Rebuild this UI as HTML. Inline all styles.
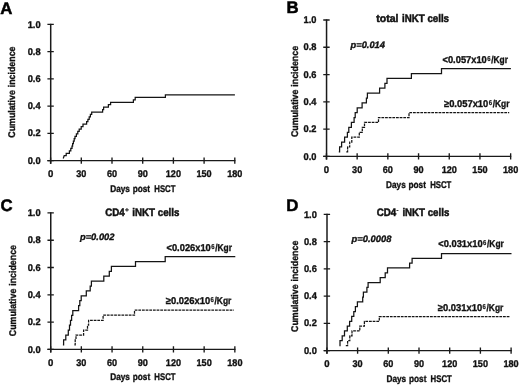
<!DOCTYPE html>
<html><head><meta charset="utf-8"><title>Figure</title>
<style>
html,body{margin:0;padding:0;background:#fff;}
body{width:520px;height:386px;overflow:hidden;}
svg{display:block;will-change:transform;filter:grayscale(1) blur(0.35px);}
text{font-family:"Liberation Sans", sans-serif;font-weight:bold;fill:#111;stroke:#111;stroke-width:0.35px;text-rendering:geometricPrecision;}
.t{font-size:9.7px;}
.ti{font-size:10.9px;stroke-width:0.5px;}
.lg{font-size:9.9px;}
.sp{font-size:7.2px;stroke-width:0.2px;}
.p{font-size:9.3px;font-style:italic;}
.L{font-size:16.8px;fill:#000;stroke:#000;stroke-width:0.5px;}
.ax{fill:none;stroke:#1a1a1a;stroke-width:1.35;}
.c{fill:none;stroke:#141414;stroke-width:1.25;stroke-linejoin:miter;}
.d{fill:none;stroke:#141414;stroke-width:1.25;stroke-dasharray:2.75 0.9;}
</style></head><body>
<svg width="520" height="386" viewBox="0 0 520 386">
<rect width="520" height="386" fill="#fff"/>
<path d="M50.7,23.8 V163.8" class="ax" style="stroke-width:1.5"/>
<path d="M47.4,160.6 H235.4" class="ax"/>
<path d="M47.4,160.6 H53.8 M47.4,133.36 H53.8 M47.4,106.12 H53.8 M47.4,78.88 H53.8 M47.4,51.64 H53.8 M47.4,24.4 H53.8 M50.6,157.4 V163.8 M81.3,157.4 V163.8 M112,157.4 V163.8 M142.7,157.4 V163.8 M173.4,157.4 V163.8 M204.1,157.4 V163.8 M234.8,157.4 V163.8" class="ax"/>
<text x="27.7" y="163.7" class="t" textLength="12.9" lengthAdjust="spacingAndGlyphs">0.0</text>
<text x="27.7" y="136.46" class="t" textLength="12.9" lengthAdjust="spacingAndGlyphs">0.2</text>
<text x="27.7" y="109.22" class="t" textLength="12.9" lengthAdjust="spacingAndGlyphs">0.4</text>
<text x="27.7" y="81.98" class="t" textLength="12.9" lengthAdjust="spacingAndGlyphs">0.6</text>
<text x="27.7" y="54.74" class="t" textLength="12.9" lengthAdjust="spacingAndGlyphs">0.8</text>
<text x="27.7" y="27.5" class="t" textLength="12.9" lengthAdjust="spacingAndGlyphs">1.0</text>
<text x="47.94" y="176.7" class="t" textLength="5.32" lengthAdjust="spacingAndGlyphs">0</text>
<text x="76.23" y="176.7" class="t" textLength="10.14" lengthAdjust="spacingAndGlyphs">30</text>
<text x="106.93" y="176.7" class="t" textLength="10.14" lengthAdjust="spacingAndGlyphs">60</text>
<text x="137.63" y="176.7" class="t" textLength="10.14" lengthAdjust="spacingAndGlyphs">90</text>
<text x="165.79" y="176.7" class="t" textLength="15.21" lengthAdjust="spacingAndGlyphs">120</text>
<text x="196.49" y="176.7" class="t" textLength="15.21" lengthAdjust="spacingAndGlyphs">150</text>
<text x="227.19" y="176.7" class="t" textLength="15.21" lengthAdjust="spacingAndGlyphs">180</text>
<text x="110.2" y="191.7" class="t" textLength="19.7" lengthAdjust="spacingAndGlyphs">Days</text>
<text x="132.7" y="191.7" class="t" textLength="17.4" lengthAdjust="spacingAndGlyphs">post</text>
<text x="154.3" y="191.7" class="t" textLength="21.2" lengthAdjust="spacingAndGlyphs">HSCT</text>
<text transform="translate(15.4,137.7) rotate(-90)" class="t" textLength="47.5" lengthAdjust="spacingAndGlyphs">Cumulative</text>
<text transform="translate(15.4,87.3) rotate(-90)" class="t" textLength="40.8" lengthAdjust="spacingAndGlyphs">incidence</text>
<text x="0.3" y="13.5" class="L">A</text>
<path d="M326.55,19.4 V159.6" class="ax" style="stroke-width:1.5"/>
<path d="M323.25,156.4 H511.25" class="ax"/>
<path d="M323.25,156.4 H329.65 M323.25,129.12 H329.65 M323.25,101.84 H329.65 M323.25,74.56 H329.65 M323.25,47.28 H329.65 M323.25,20 H329.65 M326.45,153.2 V159.6 M357.15,153.2 V159.6 M387.85,153.2 V159.6 M418.55,153.2 V159.6 M449.25,153.2 V159.6 M479.95,153.2 V159.6 M510.65,153.2 V159.6" class="ax"/>
<text x="303.5" y="159.5" class="t" textLength="12.9" lengthAdjust="spacingAndGlyphs">0.0</text>
<text x="303.5" y="132.22" class="t" textLength="12.9" lengthAdjust="spacingAndGlyphs">0.2</text>
<text x="303.5" y="104.94" class="t" textLength="12.9" lengthAdjust="spacingAndGlyphs">0.4</text>
<text x="303.5" y="77.66" class="t" textLength="12.9" lengthAdjust="spacingAndGlyphs">0.6</text>
<text x="303.5" y="50.38" class="t" textLength="12.9" lengthAdjust="spacingAndGlyphs">0.8</text>
<text x="303.5" y="23.1" class="t" textLength="12.9" lengthAdjust="spacingAndGlyphs">1.0</text>
<text x="323.79" y="172.9" class="t" textLength="5.32" lengthAdjust="spacingAndGlyphs">0</text>
<text x="352.08" y="172.9" class="t" textLength="10.14" lengthAdjust="spacingAndGlyphs">30</text>
<text x="382.78" y="172.9" class="t" textLength="10.14" lengthAdjust="spacingAndGlyphs">60</text>
<text x="413.48" y="172.9" class="t" textLength="10.14" lengthAdjust="spacingAndGlyphs">90</text>
<text x="441.64" y="172.9" class="t" textLength="15.21" lengthAdjust="spacingAndGlyphs">120</text>
<text x="472.34" y="172.9" class="t" textLength="15.21" lengthAdjust="spacingAndGlyphs">150</text>
<text x="503.04" y="172.9" class="t" textLength="15.21" lengthAdjust="spacingAndGlyphs">180</text>
<text x="386.05" y="187.5" class="t" textLength="19.7" lengthAdjust="spacingAndGlyphs">Days</text>
<text x="408.55" y="187.5" class="t" textLength="17.4" lengthAdjust="spacingAndGlyphs">post</text>
<text x="430.15" y="187.5" class="t" textLength="21.2" lengthAdjust="spacingAndGlyphs">HSCT</text>
<text transform="translate(298.2,137.1) rotate(-90)" class="t" textLength="47.5" lengthAdjust="spacingAndGlyphs">Cumulative</text>
<text transform="translate(298.2,86.7) rotate(-90)" class="t" textLength="40.8" lengthAdjust="spacingAndGlyphs">incidence</text>
<text x="286.5" y="13.4" class="L">B</text>
<path d="M50.75,212.3 V352.6" class="ax" style="stroke-width:1.5"/>
<path d="M47.45,349.4 H235.45" class="ax"/>
<path d="M47.45,349.4 H53.85 M47.45,322.1 H53.85 M47.45,294.8 H53.85 M47.45,267.5 H53.85 M47.45,240.2 H53.85 M47.45,212.9 H53.85 M50.65,346.2 V352.6 M81.35,346.2 V352.6 M112.05,346.2 V352.6 M142.75,346.2 V352.6 M173.45,346.2 V352.6 M204.15,346.2 V352.6 M234.85,346.2 V352.6" class="ax"/>
<text x="27.7" y="352.5" class="t" textLength="12.9" lengthAdjust="spacingAndGlyphs">0.0</text>
<text x="27.7" y="325.2" class="t" textLength="12.9" lengthAdjust="spacingAndGlyphs">0.2</text>
<text x="27.7" y="297.9" class="t" textLength="12.9" lengthAdjust="spacingAndGlyphs">0.4</text>
<text x="27.7" y="270.6" class="t" textLength="12.9" lengthAdjust="spacingAndGlyphs">0.6</text>
<text x="27.7" y="243.3" class="t" textLength="12.9" lengthAdjust="spacingAndGlyphs">0.8</text>
<text x="27.7" y="216" class="t" textLength="12.9" lengthAdjust="spacingAndGlyphs">1.0</text>
<text x="47.99" y="365.9" class="t" textLength="5.32" lengthAdjust="spacingAndGlyphs">0</text>
<text x="76.28" y="365.9" class="t" textLength="10.14" lengthAdjust="spacingAndGlyphs">30</text>
<text x="106.98" y="365.9" class="t" textLength="10.14" lengthAdjust="spacingAndGlyphs">60</text>
<text x="137.68" y="365.9" class="t" textLength="10.14" lengthAdjust="spacingAndGlyphs">90</text>
<text x="165.84" y="365.9" class="t" textLength="15.21" lengthAdjust="spacingAndGlyphs">120</text>
<text x="196.54" y="365.9" class="t" textLength="15.21" lengthAdjust="spacingAndGlyphs">150</text>
<text x="227.25" y="365.9" class="t" textLength="15.21" lengthAdjust="spacingAndGlyphs">180</text>
<text x="110.25" y="380.4" class="t" textLength="19.7" lengthAdjust="spacingAndGlyphs">Days</text>
<text x="132.75" y="380.4" class="t" textLength="17.4" lengthAdjust="spacingAndGlyphs">post</text>
<text x="154.35" y="380.4" class="t" textLength="21.2" lengthAdjust="spacingAndGlyphs">HSCT</text>
<text transform="translate(16.3,336.2) rotate(-90)" class="t" textLength="47.5" lengthAdjust="spacingAndGlyphs">Cumulative</text>
<text transform="translate(16.3,285.8) rotate(-90)" class="t" textLength="40.8" lengthAdjust="spacingAndGlyphs">incidence</text>
<text x="0.5" y="210.7" class="L">C</text>
<path d="M327,213.8 V353.8" class="ax" style="stroke-width:1.5"/>
<path d="M323.7,350.6 H511.7" class="ax"/>
<path d="M323.7,350.6 H330.1 M323.7,323.36 H330.1 M323.7,296.12 H330.1 M323.7,268.88 H330.1 M323.7,241.64 H330.1 M323.7,214.4 H330.1 M326.9,347.4 V353.8 M357.6,347.4 V353.8 M388.3,347.4 V353.8 M419,347.4 V353.8 M449.7,347.4 V353.8 M480.4,347.4 V353.8 M511.1,347.4 V353.8" class="ax"/>
<text x="303.9" y="353.7" class="t" textLength="12.9" lengthAdjust="spacingAndGlyphs">0.0</text>
<text x="303.9" y="326.46" class="t" textLength="12.9" lengthAdjust="spacingAndGlyphs">0.2</text>
<text x="303.9" y="299.22" class="t" textLength="12.9" lengthAdjust="spacingAndGlyphs">0.4</text>
<text x="303.9" y="271.98" class="t" textLength="12.9" lengthAdjust="spacingAndGlyphs">0.6</text>
<text x="303.9" y="244.74" class="t" textLength="12.9" lengthAdjust="spacingAndGlyphs">0.8</text>
<text x="303.9" y="217.5" class="t" textLength="12.9" lengthAdjust="spacingAndGlyphs">1.0</text>
<text x="324.24" y="366.9" class="t" textLength="5.32" lengthAdjust="spacingAndGlyphs">0</text>
<text x="352.53" y="366.9" class="t" textLength="10.14" lengthAdjust="spacingAndGlyphs">30</text>
<text x="383.23" y="366.9" class="t" textLength="10.14" lengthAdjust="spacingAndGlyphs">60</text>
<text x="413.93" y="366.9" class="t" textLength="10.14" lengthAdjust="spacingAndGlyphs">90</text>
<text x="442.09" y="366.9" class="t" textLength="15.21" lengthAdjust="spacingAndGlyphs">120</text>
<text x="472.79" y="366.9" class="t" textLength="15.21" lengthAdjust="spacingAndGlyphs">150</text>
<text x="503.49" y="366.9" class="t" textLength="15.21" lengthAdjust="spacingAndGlyphs">180</text>
<text x="386.5" y="382" class="t" textLength="19.7" lengthAdjust="spacingAndGlyphs">Days</text>
<text x="409" y="382" class="t" textLength="17.4" lengthAdjust="spacingAndGlyphs">post</text>
<text x="430.6" y="382" class="t" textLength="21.2" lengthAdjust="spacingAndGlyphs">HSCT</text>
<text transform="translate(297.9,331.9) rotate(-90)" class="t" textLength="47.5" lengthAdjust="spacingAndGlyphs">Cumulative</text>
<text transform="translate(297.9,281.5) rotate(-90)" class="t" textLength="40.8" lengthAdjust="spacingAndGlyphs">incidence</text>
<text x="286.3" y="211.2" class="L">D</text>
<path d="M63.2,158.5 L64.2,155.74 H66.2 V153.31 H69.4 V150.88 H70.8 V148.45 H72 V146.02 H72.6 V143.59 H73.4 V141.16 H74.2 V138.73 H75 V136.3 H76.4 V133.87 H77.8 V131.44 H79.2 V129.01 H81.2 V126.58 H83 V124.15 H86.6 V121.72 H87.9 V119.29 H89.2 V116.86 H90.4 V114.43 H91.7 V112 H102.6 V109.57 H103.6 V107.14 H108.4 V104.71 H110.6 V102.28 H133.4 V99.85 H135.2 V97.42 H165.4 V94.99 H234.9 V94.99" class="c"/>
<path d="M338.8,151.81 H339.6 V146.92 H341.6 V142.03 H344.6 V137.14 H347.4 V132.25 H348.8 V127.36 H351.4 V122.47 H354.1 V117.58 H355.2 V112.69 H357.2 V107.8 H362.1 V102.91 H366.4 V98.02 H367.4 V93.13 H379.6 V88.24 H384.9 V83.35 H387 V78.46 H411.4 V73.57 H441.5 V68.68 H510.9 V68.68" class="c"/>
<path d="M346.3,151.81 H347.6 V146.92 H349.7 V142.03 H351.8 V137.14 H359.3 V132.25 H362.3 V127.36 H364.5 V122.47 H378.5 V117.58 H409 V112.69 H509.2 V112.69" class="d"/>
<text x="376.3" y="22.2" class="ti" textLength="22.2" lengthAdjust="spacingAndGlyphs">total</text>
<text x="402.0" y="22.2" class="ti" textLength="47.0" lengthAdjust="spacingAndGlyphs">iNKT cells</text>
<text x="350.6" y="47.9" class="p" textLength="34.3" lengthAdjust="spacingAndGlyphs">p=0.014</text>
<text x="442.5" y="63.1" class="lg" textLength="44.3" lengthAdjust="spacingAndGlyphs">&lt;0.057x10</text>
<text x="487.2" y="61.1" class="sp" textLength="3.3" lengthAdjust="spacingAndGlyphs">6</text>
<text x="491.2" y="63.1" class="lg" textLength="16.8" lengthAdjust="spacingAndGlyphs">/Kgr</text>
<text x="444" y="107.1" class="lg" textLength="44.3" lengthAdjust="spacingAndGlyphs">&#8805;0.057x10</text>
<text x="488.7" y="105.1" class="sp" textLength="3.3" lengthAdjust="spacingAndGlyphs">6</text>
<text x="492.7" y="107.1" class="lg" textLength="16.8" lengthAdjust="spacingAndGlyphs">/Kgr</text>
<path d="M62.9,344.8 H63.6 V339.9 H65.8 V335 H68.3 V330.1 H69.5 V325.2 H70.5 V320.3 H71.6 V315.4 H72.8 V310.5 H78.6 V305.6 H79.8 V300.7 H81.2 V295.8 H86.3 V290.9 H90.2 V286 H91.4 V281.1 H103.8 V276.2 H109.3 V271.3 H111.4 V266.4 H135.5 V261.5 H165.2 V256.6 H235.3 V256.6" class="c"/>
<path d="M74.4,344.8 H75.2 V339.9 H76 V335 H83.6 V330.1 H87.5 V325.2 H88.6 V320.3 H103.1 V315.2 H134.5 V310.2 H233.9 V310.2" class="d"/>
<text x="105.3" y="215.5" class="ti" textLength="19.5" lengthAdjust="spacingAndGlyphs">CD4</text>
<text x="124.9" y="212.4" class="sp" style="font-size:6.6px">+</text>
<text x="132.3" y="215.5" class="ti" textLength="47.1" lengthAdjust="spacingAndGlyphs">iNKT cells</text>
<text x="80" y="240.2" class="p" textLength="34.4" lengthAdjust="spacingAndGlyphs">p=0.002</text>
<text x="166.5" y="250.8" class="lg" textLength="44.3" lengthAdjust="spacingAndGlyphs">&lt;0.026x10</text>
<text x="211.2" y="248.8" class="sp" textLength="3.3" lengthAdjust="spacingAndGlyphs">6</text>
<text x="215.2" y="250.8" class="lg" textLength="16.8" lengthAdjust="spacingAndGlyphs">/Kgr</text>
<text x="165.8" y="304" class="lg" textLength="44.3" lengthAdjust="spacingAndGlyphs">&#8805;0.026x10</text>
<text x="210.5" y="302" class="sp" textLength="3.3" lengthAdjust="spacingAndGlyphs">6</text>
<text x="214.5" y="304" class="lg" textLength="16.8" lengthAdjust="spacingAndGlyphs">/Kgr</text>
<path d="M339.4,345.5 H340 V340.66 H342.2 V335.81 H344.5 V330.97 H347.3 V326.12 H349.6 V321.27 H351.7 V316.43 H353.8 V311.58 H355.4 V306.74 H357.4 V301.89 H362.7 V297.04 H363.4 V292.2 H366.9 V287.35 H368.1 V282.51 H380.2 V277.66 H385.2 V272.81 H387.5 V267.97 H409.6 V263.12 H412.1 V258.28 H441.5 V253.53 H511.5 V253.53" class="c"/>
<path d="M345.8,345.5 H347.6 V340.66 H349.8 V335.81 H352 V330.97 H359.8 V326.12 H364.4 V321.27 H379.3 V316.58 H509.9 V316.58" class="d"/>
<text x="376.7" y="216.0" class="ti" textLength="19.5" lengthAdjust="spacingAndGlyphs">CD4</text>
<text x="396.6" y="212.3" class="sp" style="font-size:5.8px">-</text>
<text x="402.4" y="216.0" class="ti" textLength="46.9" lengthAdjust="spacingAndGlyphs">iNKT cells</text>
<text x="351.6" y="241.5" class="p" textLength="39.8" lengthAdjust="spacingAndGlyphs">p=0.0008</text>
<text x="438.3" y="247.4" class="lg" textLength="44.3" lengthAdjust="spacingAndGlyphs">&lt;0.031x10</text>
<text x="483" y="245.4" class="sp" textLength="3.3" lengthAdjust="spacingAndGlyphs">6</text>
<text x="487" y="247.4" class="lg" textLength="16.8" lengthAdjust="spacingAndGlyphs">/Kgr</text>
<text x="437.8" y="310.9" class="lg" textLength="44.3" lengthAdjust="spacingAndGlyphs">&#8805;0.031x10</text>
<text x="482.5" y="308.9" class="sp" textLength="3.3" lengthAdjust="spacingAndGlyphs">6</text>
<text x="486.5" y="310.9" class="lg" textLength="16.8" lengthAdjust="spacingAndGlyphs">/Kgr</text>
</svg></body></html>
